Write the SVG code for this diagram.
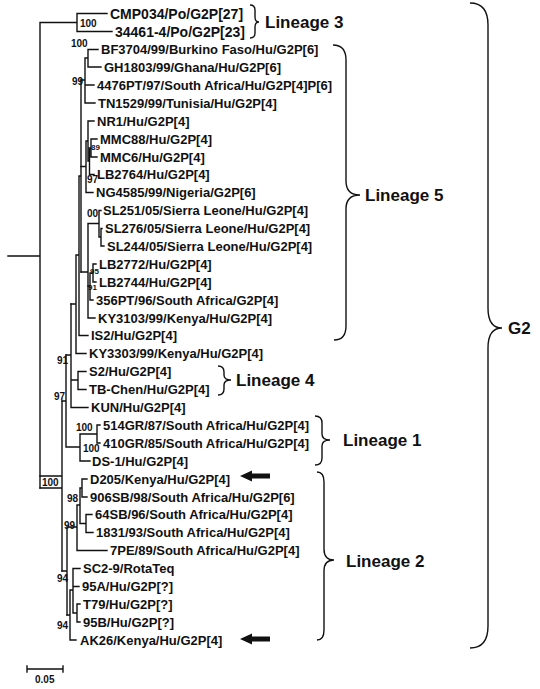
<svg xmlns="http://www.w3.org/2000/svg" width="540" height="689" viewBox="0 0 540 689">
<style>
text{font-family:"Liberation Sans",Arial,sans-serif;font-weight:bold;fill:#111}
.lf{font-size:13px}
.lf14{font-size:14px}
.bs{font-size:10px}
.bs8{font-size:8px}
.ln{font-size:17px}
.tr{fill:none;stroke:#111;stroke-width:1.4;stroke-linecap:square}
.br{fill:none;stroke:#111;stroke-width:1.4}
</style>
<rect width="540" height="689" fill="#fff"/>
<g id="connectors" class="tr">
<path d="M8,256H40M40,22.5V488M40,22.5H77M77,13.5V31.5M77,13.5H107M77,31.5H112"/>
<path d="M40,488H62M40,476H62V488M62,401V571"/>
<path d="M62,401H66M66,355V447M66,447H80M80,434V461M80,434H97M97,425V443M97,425H100M97,443H100M80,461H90"/>
<path d="M66,355H71M71,304V407.5M71,407.5H88M71,380H78M78,371.5V389.5M78,371.5H86M78,389.5H86"/>
<path d="M71,304H76M76,255V353.5M76,353.5H86M76,255H79M79,176V335.5M79,335.5H88M79,176H81M81,80V272"/>
<path d="M81,80H85M85,58V103M85,85H94M85,103H95M85,58H88M88,49.5V67M88,49.5H98M88,67H101"/>
<path d="M81,166.5H86M86,141V192.5M86,192.5H93M86,141H88M88,121V161M88,121H94M88,161H89.5M89.5,148V174.5M89.5,174.5H94M89.5,148H91M91,139V157M91,139H97M91,157H97"/>
<path d="M81,272H88M88,223.5V318M88,318H95M88,223.5H99M99,210.5V237M99,210.5H101M99,237H101M101,228.5V246M101,228.5H102M101,246H104"/>
<path d="M88,286H90M90,273V300M90,300H93M90,273H93M93,264V282M93,264H96M93,282H96"/>
<path d="M62,571H67M67,527V615M67,527H77M77,505V550.5M77,550.5H107M77,505H80M80,488V523.5M80,488H82M82,479V497M82,479H87M82,497H87M80,523.5H86M86,514.5V532.5M86,514.5H92M86,532.5H93"/>
<path d="M67,615H70M70,590V640M70,640H76M70,590H73M73,568.5V613M73,568.5H80M73,586.5H79M73,613H77M77,604V622M77,604H80M77,622H80"/>
</g>
<g id="bootstrap">
<text class="bs" x="80" y="27">100</text>
<text class="bs" x="71" y="47">100</text>
<text class="bs" x="72" y="85">99</text>
<text class="bs8" x="91" y="150">89</text>
<text class="bs" x="87" y="183">97</text>
<text class="bs" x="87" y="217">00</text>
<text class="bs8" x="90" y="274">95</text>
<text class="bs8" x="88" y="290">91</text>
<text class="bs" x="57" y="364">91</text>
<text class="bs" x="54" y="400">97</text>
<text class="bs" x="76" y="431">100</text>
<text class="bs" x="83" y="452">100</text>
<text class="bs" x="42" y="486">100</text>
<text class="bs" x="67" y="502">98</text>
<text class="bs" x="64" y="529">99</text>
<text class="bs" x="57" y="582">94</text>
<text class="bs" x="57" y="629">94</text>
</g>
<g id="leaves" class="lf">
<g id="n-CMP034"><text class="lf14" x="110" y="18.5">CMP034/Po/G2P[27]</text></g>
<g id="n-34461-4"><text class="lf14" x="115" y="36.5">34461-4/Po/G2P[23]</text></g>
<g id="n-BF3704"><text class="lf" x="101" y="54">BF3704/99/Burkino Faso/Hu/G2P[6]</text></g>
<g id="n-GH1803"><text class="lf" x="104" y="71.5">GH1803/99/Ghana/Hu/G2P[6]</text></g>
<g id="n-4476PT"><text class="lf" x="97" y="89.5">4476PT/97/South Africa/Hu/G2P[4]P[6]</text></g>
<g id="n-TN1529"><text class="lf" x="98" y="107.5">TN1529/99/Tunisia/Hu/G2P[4]</text></g>
<g id="n-NR1"><text class="lf" x="97" y="125.5">NR1/Hu/G2P[4]</text></g>
<g id="n-MMC88"><text class="lf" x="100" y="143.5">MMC88/Hu/G2P[4]</text></g>
<g id="n-MMC6"><text class="lf" x="100" y="161.5">MMC6/Hu/G2P[4]</text></g>
<g id="n-LB2764"><text class="lf" x="97" y="179">LB2764/Hu/G2P[4]</text></g>
<g id="n-NG4585"><text class="lf" x="96" y="197">NG4585/99/Nigeria/G2P[6]</text></g>
<g id="n-SL251"><text class="lf" x="103" y="215">SL251/05/Sierra Leone/Hu/G2P[4]</text></g>
<g id="n-SL276"><text class="lf" x="105" y="233">SL276/05/Sierra Leone/Hu/G2P[4]</text></g>
<g id="n-SL244"><text class="lf" x="107" y="250.5">SL244/05/Sierra Leone/Hu/G2P[4]</text></g>
<g id="n-LB2772"><text class="lf" x="99" y="268.5">LB2772/Hu/G2P[4]</text></g>
<g id="n-LB2744"><text class="lf" x="99" y="286.5">LB2744/Hu/G2P[4]</text></g>
<g id="n-356PT"><text class="lf" x="96" y="304.5">356PT/96/South Africa/G2P[4]</text></g>
<g id="n-KY3103"><text class="lf" x="98" y="322.5">KY3103/99/Kenya/Hu/G2P[4]</text></g>
<g id="n-IS2"><text class="lf" x="91" y="340">IS2/Hu/G2P[4]</text></g>
<g id="n-KY3303"><text class="lf" x="89" y="358">KY3303/99/Kenya/Hu/G2P[4]</text></g>
<g id="n-S2"><text class="lf" x="89" y="376">S2/Hu/G2P[4]</text></g>
<g id="n-TB-Chen"><text class="lf" x="89" y="394">TB-Chen/Hu/G2P[4]</text></g>
<g id="n-KUN"><text class="lf" x="91" y="412">KUN/Hu/G2P[4]</text></g>
<g id="n-514GR"><text class="lf" x="103" y="429.5">514GR/87/South Africa/Hu/G2P[4]</text></g>
<g id="n-410GR"><text class="lf" x="103" y="447.5">410GR/85/South Africa/Hu/G2P[4]</text></g>
<g id="n-DS-1"><text class="lf" x="92" y="465.5">DS-1/Hu/G2P[4]</text></g>
<g id="n-D205"><text class="lf" x="90" y="483.5">D205/Kenya/Hu/G2P[4]</text></g>
<g id="n-906SB"><text class="lf" x="90" y="501.5">906SB/98/South Africa/Hu/G2P[6]</text></g>
<g id="n-64SB"><text class="lf" x="95" y="519">64SB/96/South Africa/Hu/G2P[4]</text></g>
<g id="n-1831"><text class="lf" x="96" y="537">1831/93/South Africa/Hu/G2P[4]</text></g>
<g id="n-7PE"><text class="lf" x="110" y="555">7PE/89/South Africa/Hu/G2P[4]</text></g>
<g id="n-SC2-9"><text class="lf" x="83" y="573">SC2-9/RotaTeq</text></g>
<g id="n-95A"><text class="lf" x="82" y="591">95A/Hu/G2P[?]</text></g>
<g id="n-T79"><text class="lf" x="83" y="608.5">T79/Hu/G2P[?]</text></g>
<g id="n-95B"><text class="lf" x="83" y="626.5">95B/Hu/G2P[?]</text></g>
<g id="n-AK26"><text class="lf" x="80" y="644.5">AK26/Kenya/Hu/G2P[4]</text></g>
</g>
<g id="arrows" fill="#111">
<polygon points="240,476 252,470.5 252,473.5 270,473.5 270,478.5 252,478.5 252,481.5"/>
<polygon points="240,639 252,633.5 252,636.5 270,636.5 270,641.5 252,641.5 252,644.5"/>
</g>
<g id="lineage3">
<path class="br" d="M250,5Q255,5 255,10V17Q255,22 259,22Q255,22 255,27V33Q255,38 250,38"/>
<text class="ln" x="265" y="28">Lineage 3</text>
</g>
<g id="lineage5">
<path class="br" d="M333,45Q346,45 346,60V181Q346,195 360,195Q346,195 346,209V326Q346,340 334,340"/>
<text class="ln" x="365" y="201">Lineage 5</text>
</g>
<g id="lineage4">
<path class="br" d="M218,366Q224,366 224,372V375Q224,380 231,380Q224,380 224,385V389Q224,395 218,395"/>
<text class="ln" x="236" y="386">Lineage 4</text>
</g>
<g id="lineage1">
<path class="br" d="M315,416Q322,416 322,423V434Q322,440 330,440Q322,440 322,446V458Q322,465 315,465"/>
<text class="ln" x="343" y="446">Lineage 1</text>
</g>
<g id="lineage2">
<path class="br" d="M317,472Q324,472 324,482V549Q324,560 334,560Q324,560 324,571V630Q324,640 317,640"/>
<text class="ln" x="346" y="567">Lineage 2</text>
</g>
<g id="g2">
<path class="br" d="M470,3Q488,3 488,25V308Q488,328 502,328Q488,328 488,348V626Q488,648 470,648"/>
<text class="ln" x="508" y="334">G2</text>
</g>
<g id="scale">
<path class="tr" d="M27,669H63M27,666V672M63,666V672"/>
<text class="bs" x="35" y="683">0.05</text>
</g>
</svg>
